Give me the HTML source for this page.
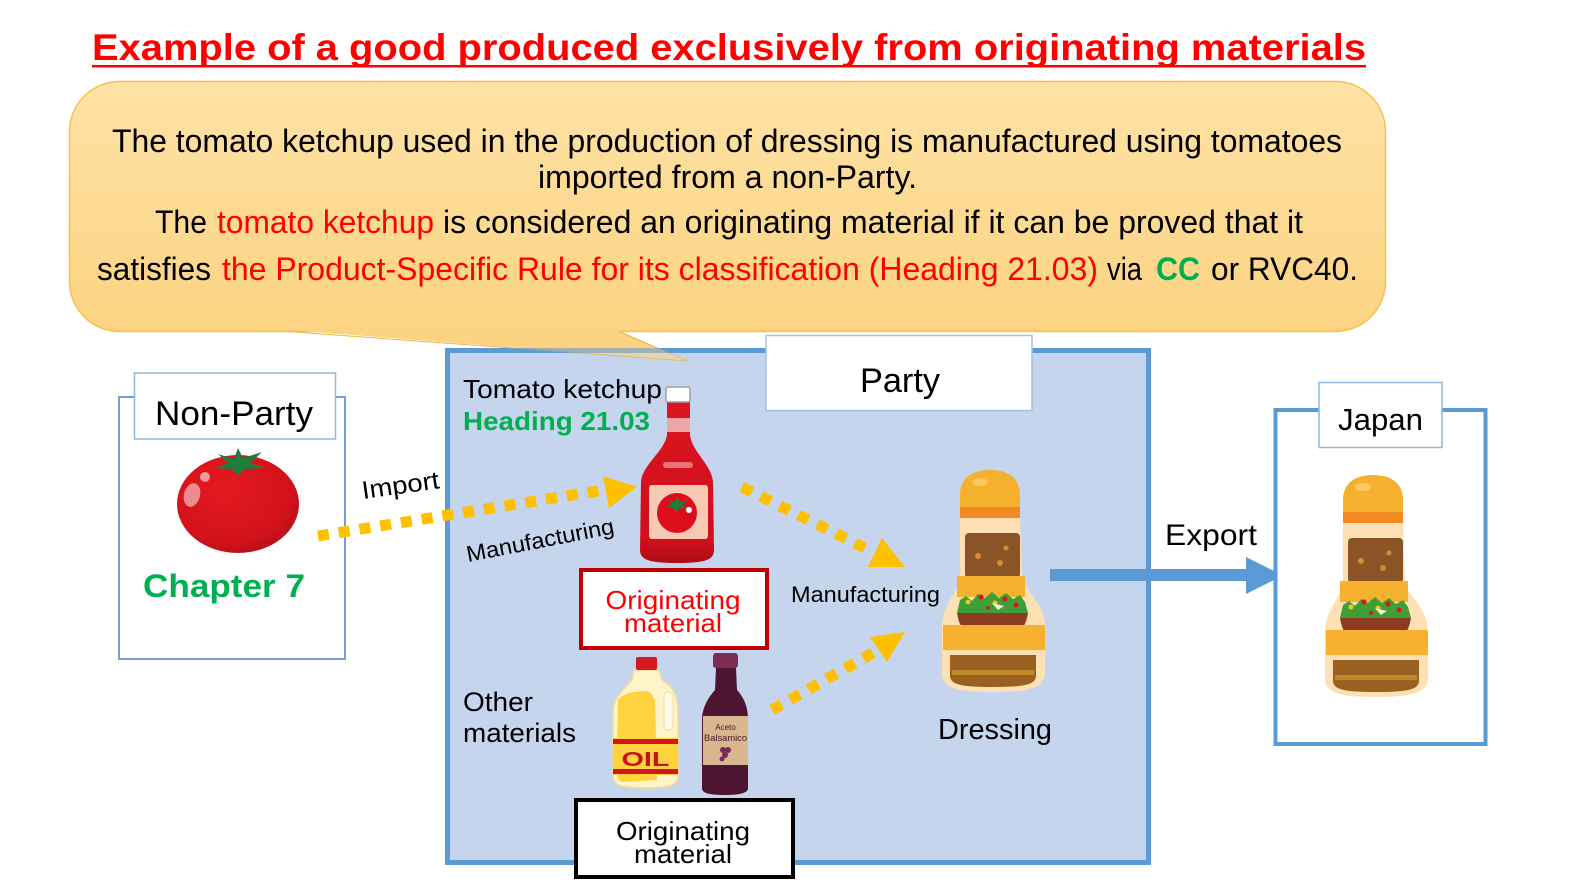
<!DOCTYPE html>
<html><head><meta charset="utf-8"><style>
html,body{margin:0;padding:0;background:#fff;}
svg{display:block;}
text{font-family:"Liberation Sans",Arial,sans-serif;}
</style></head><body>
<svg width="1571" height="882" viewBox="0 0 1571 882" xmlns="http://www.w3.org/2000/svg">
<defs>
<linearGradient id="cg" x1="0" y1="0" x2="0" y2="1"><stop offset="0" stop-color="#fee2a6"/><stop offset="1" stop-color="#fcd382"/></linearGradient>
<radialGradient id="tg" cx="0.4" cy="0.35" r="0.75"><stop offset="0" stop-color="#e31a20"/><stop offset="0.7" stop-color="#d3121a"/><stop offset="1" stop-color="#b01018"/></radialGradient>
<linearGradient id="kg" x1="0" y1="0" x2="0" y2="1"><stop offset="0" stop-color="#dc1420"/><stop offset="0.85" stop-color="#d0101b"/><stop offset="1" stop-color="#b00c16"/></linearGradient>
<clipPath id="belowBorder"><rect x="0" y="353" width="1571" height="100"/></clipPath>
<g id="dress">
  <path d="M960,518 L960,495 C960,478 972,470 990,470 C1008,470 1020,478 1020,495 L1020,518 Z" fill="#f5b02e"/>
  <ellipse cx="980" cy="482" rx="8" ry="4" fill="#f9c860"/>
  <rect x="960" y="507" width="60" height="11" fill="#f08a22"/>
  <path d="M960,518 L1020,518 L1022,580 C1030,595 1044,605 1045,625 L1045,672 C1045,686 1035,692 993,692 C950,692 942,686 942,672 L942,625 C943,605 956,595 960,580 Z" fill="#fde1b5"/>
  <rect x="965" y="533" width="55" height="45" rx="4" fill="#8a5426"/>
  <circle cx="978" cy="556" r="3" fill="#d98a3a"/><circle cx="1000" cy="563" r="3" fill="#d98a3a"/><circle cx="1006" cy="548" r="2.5" fill="#d98a3a"/>
  <rect x="957" y="576" width="68" height="21" fill="#f6b12f"/>
  <path d="M957,612 L1028,612 C1026,632 1012,642 992,642 C972,642 959,632 957,612 Z" fill="#8b3b22"/>
  <path d="M957,613 L960,600 L966,596 L972,601 L978,594 L985,598 L992,592 L999,598 L1006,593 L1013,599 L1020,595 L1025,602 L1028,613 Z" fill="#3f9e35"/>
  <circle cx="968" cy="602" r="2.5" fill="#f2c811"/><circle cx="981" cy="597" r="2.5" fill="#e0141a"/><circle cx="995" cy="603" r="2.5" fill="#f2c811"/><circle cx="1005" cy="599" r="2.5" fill="#e0141a"/><circle cx="1016" cy="605" r="2.5" fill="#e0141a"/><circle cx="988" cy="608" r="2" fill="#e0141a"/><path d="M992,603 L1004,606 L998,610 Z" fill="#f5eed0"/>
  <rect x="943" y="625" width="102" height="25" fill="#f6b12f"/>
  <path d="M950,655 L1036,655 L1036,675 C1036,684 1028,687 993,687 C958,687 950,684 950,675 Z" fill="#9a6022"/>
  <rect x="952" y="670" width="82" height="5" fill="#c08a2b"/>
</g>
</defs>

<!-- Title -->
<text x="92" y="60" font-size="37" font-weight="bold" fill="#ff0000" textLength="1274" lengthAdjust="spacingAndGlyphs">Example of a good produced exclusively from originating materials</text>
<rect x="92" y="65" width="1274" height="2.5" fill="#ff0000"/>

<!-- Party box -->
<rect x="447.5" y="350.5" width="701" height="512" fill="#c6d5ee" stroke="#5b9bd5" stroke-width="5"/>

<!-- Callout -->
<rect x="69.5" y="81.5" width="1316" height="250" rx="50" fill="url(#cg)" stroke="#f6c343" stroke-width="1.5"/>
<polygon points="288,330 618,330 688,361" fill="#fcd382"/>
<line x1="288" y1="331.5" x2="688" y2="361" stroke="#e8b84a" stroke-width="1"/>
<line x1="618" y1="331.5" x2="688" y2="361" stroke="#e8b84a" stroke-width="1"/>
<rect x="445" y="348" width="255" height="5" fill="#5b9bd5" opacity="0.6"/>
<polygon points="288,330 618,330 688,361" fill="#c6d5ee" opacity="0.45" clip-path="url(#belowBorder)"/>

<text font-size="32" y="152" x="112" textLength="1230" lengthAdjust="spacingAndGlyphs" fill="#000">The tomato ketchup used in the production of dressing is manufactured using tomatoes</text>
<text font-size="32" y="188" x="538" textLength="379" lengthAdjust="spacingAndGlyphs" fill="#000">imported from a non-Party.</text>
<text font-size="32" y="233" x="155" textLength="52" lengthAdjust="spacingAndGlyphs" fill="#000">The</text>
<text font-size="32" y="233" x="217" textLength="217" lengthAdjust="spacingAndGlyphs" fill="#ff0000">tomato ketchup</text>
<text font-size="32" y="233" x="443" textLength="860" lengthAdjust="spacingAndGlyphs" fill="#000">is considered an originating material if it can be proved that it</text>
<text font-size="32" y="280" x="97" textLength="114" lengthAdjust="spacingAndGlyphs" fill="#000">satisfies</text>
<text font-size="32" y="280" x="222" textLength="876" lengthAdjust="spacingAndGlyphs" fill="#ff0000">the Product-Specific Rule for its classification (Heading 21.03)</text>
<text font-size="32" y="280" x="1107" textLength="35" lengthAdjust="spacingAndGlyphs" fill="#000">via</text>
<text font-size="32" y="280" x="1156" textLength="44" lengthAdjust="spacingAndGlyphs" fill="#00b050" font-weight="bold">CC</text>
<text font-size="32" y="280" x="1211" textLength="147" lengthAdjust="spacingAndGlyphs" fill="#000">or RVC40.</text>

<!-- Party label -->
<rect x="766" y="335.5" width="266" height="75" fill="#fff" stroke="#9dc3e6" stroke-width="1.5"/>
<text x="860" y="392" font-size="34" textLength="80" lengthAdjust="spacingAndGlyphs" fill="#000">Party</text>

<!-- Non-Party -->
<rect x="119" y="397" width="226" height="262" fill="#fff" stroke="#6fa1d8" stroke-width="2"/>
<rect x="134.5" y="373" width="201" height="66" fill="#fff" stroke="#8db8e2" stroke-width="1.5"/>
<text x="155" y="425" font-size="34" textLength="158" lengthAdjust="spacingAndGlyphs" fill="#000">Non-Party</text>
<ellipse cx="238" cy="504" rx="61" ry="49" fill="url(#tg)"/>
<ellipse cx="192" cy="495" rx="8" ry="12" fill="#ee8b8f" transform="rotate(15 192 495)"/>
<circle cx="205" cy="477" r="5" fill="#ef9a9e"/>
<polygon points="238,448 243,458 262,452 250,463 266,468 244,469 238,476 232,469 215,468 228,463 218,454 234,459" fill="#1f7d3b"/>
<text x="143" y="597" font-size="32" font-weight="bold" fill="#00b050" textLength="162" lengthAdjust="spacingAndGlyphs">Chapter 7</text>

<!-- Import arrow -->
<line x1="318" y1="536" x2="604" y2="490" stroke="#ffc000" stroke-width="11" stroke-dasharray="11 10"/>
<polygon points="603,476 609,508 637,487" fill="#ffc000"/>
<text x="363" y="499" font-size="25" fill="#000" textLength="78" lengthAdjust="spacingAndGlyphs" transform="rotate(-8 363 499)">Import</text>
<text x="468" y="562" font-size="22.5" fill="#000" textLength="150" lengthAdjust="spacingAndGlyphs" transform="rotate(-11 468 562)">Manufacturing</text>

<!-- Ketchup texts -->
<text x="463" y="398" font-size="26" fill="#000" textLength="199" lengthAdjust="spacingAndGlyphs">Tomato ketchup</text>
<text x="463" y="430" font-size="26" font-weight="bold" fill="#00b050" textLength="187" lengthAdjust="spacingAndGlyphs">Heading 21.03</text>

<!-- Ketchup bottle -->
<path d="M667,402 L690,402 L690,435 C692,452 712,465 713,482 L714,550 C714,560 705,563 677,563 C650,563 640,560 640,550 L641,482 C642,465 664,452 667,435 Z" fill="url(#kg)"/>
<rect x="667" y="418" width="23" height="14" fill="#f0a3a8"/>
<rect x="663" y="462" width="30" height="6" rx="3" fill="#e8747a"/>
<rect x="649" y="485" width="59" height="54" rx="3" fill="#f8c8b4"/>
<circle cx="677" cy="513" r="20" fill="#dd0d1c"/>
<polygon points="677,497 680,502 688,500 682,505 688,509 679,508 676,513 673,507 666,507 672,504 668,499 675,502" fill="#1f7d3b"/>
<circle cx="689" cy="510" r="3" fill="#fff"/>
<rect x="666" y="387" width="24" height="15" rx="2" fill="#fff" stroke="#a0a0a0" stroke-width="1.5"/>

<!-- Red originating box -->
<rect x="581" y="570" width="186" height="78" fill="#fff" stroke="#c00000" stroke-width="4"/>
<text x="673" y="609" font-size="26" fill="#ff0000" text-anchor="middle" textLength="135" lengthAdjust="spacingAndGlyphs">Originating</text>
<text x="673" y="632" font-size="26" fill="#ff0000" text-anchor="middle" textLength="98" lengthAdjust="spacingAndGlyphs">material</text>

<!-- Manufacturing arrows to dressing -->
<line x1="742" y1="487" x2="873" y2="552" stroke="#ffc000" stroke-width="11" stroke-dasharray="11 10"/>
<polygon points="882,538 868,567 905,567" fill="#ffc000"/>
<line x1="772" y1="710" x2="878" y2="650" stroke="#ffc000" stroke-width="11" stroke-dasharray="11 10"/>
<polygon points="870,637 887,662 905,632" fill="#ffc000"/>
<text x="791" y="602" font-size="22.5" fill="#000" textLength="149" lengthAdjust="spacingAndGlyphs">Manufacturing</text>

<!-- Other materials -->
<text x="463" y="711" font-size="27" fill="#000" textLength="70" lengthAdjust="spacingAndGlyphs">Other</text>
<text x="463" y="742" font-size="27" fill="#000" textLength="113" lengthAdjust="spacingAndGlyphs">materials</text>

<!-- Oil bottle -->
<path d="M634,670 L659,670 L662,680 C676,688 678,700 678,712 L678,776 C678,785 670,788 645,788 C620,788 613,785 613,776 L613,712 C613,698 625,688 632,680 Z" fill="#fff4c8" stroke="#f0dc9a" stroke-width="1.5"/>
<path d="M618,700 C624,692 640,690 650,692 L655,700 L657,780 L622,782 C618,780 617,776 617,770 Z" fill="#ffd33d"/>
<rect x="664" y="692" width="9" height="38" rx="4" fill="#fffbe6" stroke="#f0dc9a" stroke-width="1"/>
<rect x="613" y="738" width="65" height="37" fill="#ffd33d"/>
<rect x="613" y="739" width="65" height="5" fill="#d7141a"/>
<rect x="613" y="769" width="65" height="5" fill="#d7141a"/>
<text x="645.5" y="766" font-size="20" font-weight="bold" fill="#c8101a" text-anchor="middle" textLength="48" lengthAdjust="spacingAndGlyphs">OIL</text>
<rect x="636" y="657" width="21" height="13" rx="2" fill="#d71a21"/>

<!-- Vinegar -->
<path d="M716,668 L736,668 L737,690 C746,700 748,710 748,720 L748,788 C748,793 740,795 725,795 C708,795 702,793 702,788 L702,720 C702,710 706,700 715,690 Z" fill="#4d1530"/>
<rect x="703" y="716" width="45" height="49" fill="#d8b78f"/>
<text x="725.5" y="730" font-size="8" fill="#4d1530" text-anchor="middle">Aceto</text>
<text x="725.5" y="741" font-size="9" fill="#4d1530" text-anchor="middle" textLength="43" lengthAdjust="spacingAndGlyphs">Balsamico</text>
<circle cx="723" cy="750" r="3" fill="#7a2a5a"/><circle cx="728" cy="750" r="3" fill="#7a2a5a"/><circle cx="725" cy="755" r="3" fill="#7a2a5a"/><circle cx="722" cy="759" r="2.5" fill="#7a2a5a"/>
<rect x="713" y="653" width="25" height="15" rx="3" fill="#7c2c55"/>

<!-- Black originating box -->
<rect x="576" y="800" width="217" height="77" fill="#fff" stroke="#000" stroke-width="4"/>
<text x="683" y="840" font-size="26" fill="#000" text-anchor="middle" textLength="134" lengthAdjust="spacingAndGlyphs">Originating</text>
<text x="683" y="863" font-size="26" fill="#000" text-anchor="middle" textLength="98" lengthAdjust="spacingAndGlyphs">material</text>

<!-- Dressing -->
<use href="#dress"/>
<text x="938" y="739" font-size="29" fill="#000" textLength="114" lengthAdjust="spacingAndGlyphs">Dressing</text>

<!-- Export arrow -->
<rect x="1050" y="569" width="198" height="12" fill="#5b9bd5"/>
<polygon points="1246,557 1246,594 1283,575.5" fill="#5b9bd5"/>
<text x="1165" y="545" font-size="30" fill="#000" textLength="92" lengthAdjust="spacingAndGlyphs">Export</text>

<!-- Japan -->
<rect x="1275.5" y="410" width="210" height="334" fill="#fff" stroke="#5b9bd5" stroke-width="4"/>
<rect x="1319" y="382.5" width="123" height="65" fill="#fff" stroke="#8db8e2" stroke-width="1.5"/>
<text x="1380.5" y="430" font-size="31" fill="#000" text-anchor="middle" textLength="85" lengthAdjust="spacingAndGlyphs">Japan</text>
<use href="#dress" transform="translate(383,5)"/>
</svg>
</body></html>
